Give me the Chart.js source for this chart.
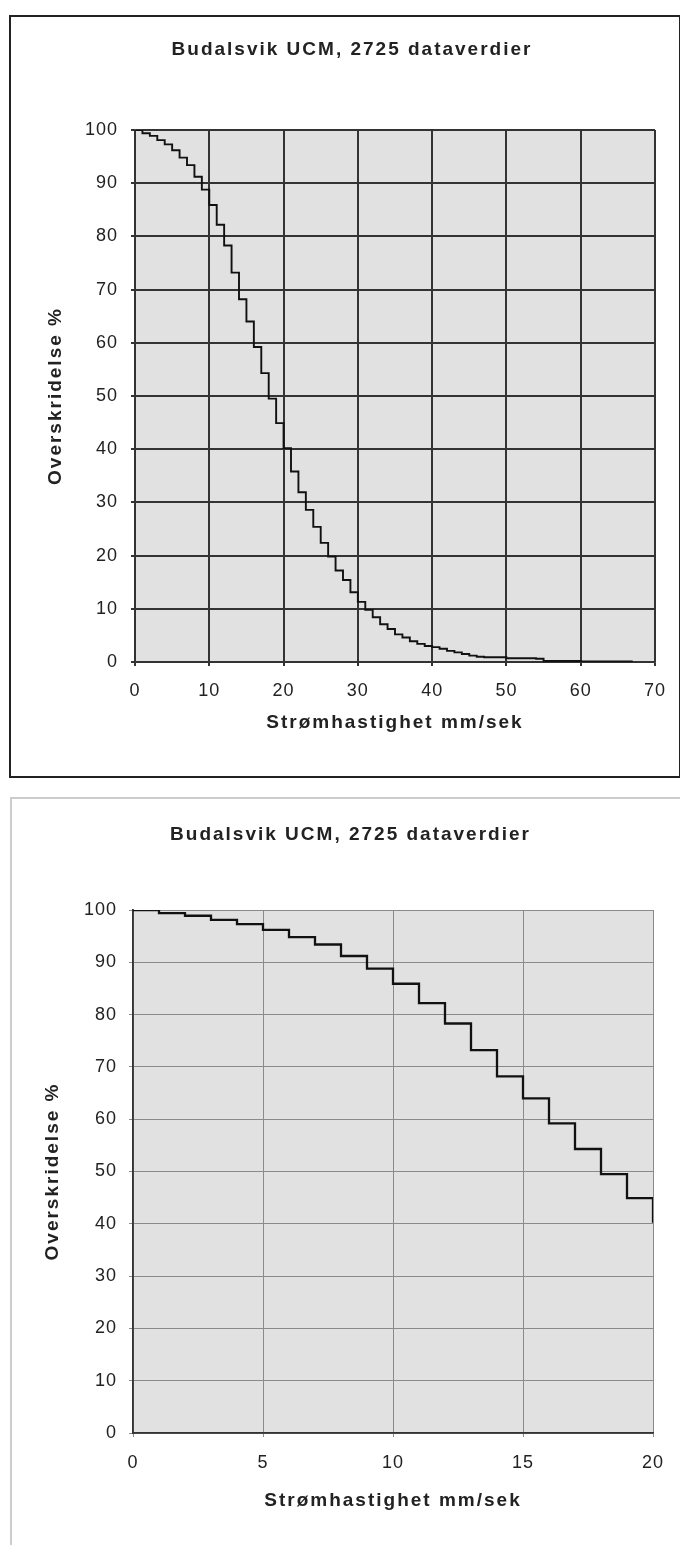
<!DOCTYPE html>
<html>
<head>
<meta charset="utf-8">
<script src="https://cdn.jsdelivr.net/npm/chart.js@4.4.1/dist/chart.umd.min.js"></script>
<style>
  body { margin: 0; background: #fff; width: 680px; height: 1545px; position: relative; overflow: hidden; }
  .frame1 { position: absolute; left: 9px; top: 15px; width: 668px; height: 759px; border: 2px solid #222; }
  .frame2 { position: absolute; left: 10px; top: 797px; width: 680px; height: 760px; border-top: 2px solid #ccc; border-left: 2px solid #ccc; }
  canvas { position: absolute; left: 0; }
</style>
</head>
<body>
<div class="frame1"></div>
<div class="frame2"></div>
<canvas id="full" width="680" height="790" style="top:0"></canvas>
<canvas id="zoom" width="680" height="755" style="top:790px"></canvas>
<script>
// stromhastighet (mm/sek) where each step starts
const hastighet = [
  0, 1, 2, 3, 4, 5, 6, 7, 8, 9,
  10, 11, 12, 13, 14, 15, 16, 17, 18, 19,
  20, 21, 22, 23, 24, 25, 26, 27, 28, 29,
  30, 31, 32, 33, 34, 35, 36, 37, 38, 39,
  40, 41, 42, 43, 44, 45, 46, 47, 48, 49,
  50, 51, 52, 53, 54, 55, 56, 57, 58, 59,
  60, 61, 62, 63, 64, 65, 66, 67
];
// overskridelse % for each step
const overskridelse = [
  100, 99.4, 98.9, 98.1, 97.3, 96.2, 94.8, 93.4, 91.2, 88.8,
  85.9, 82.2, 78.3, 73.2, 68.2, 64.0, 59.2, 54.3, 49.5, 44.9,
  40.2, 35.8, 31.9, 28.6, 25.4, 22.4, 19.8, 17.2, 15.4, 13.1,
  11.3, 9.8, 8.4, 7.1, 6.2, 5.2, 4.6, 3.9, 3.4, 3.0,
  2.8, 2.5, 2.1, 1.8, 1.5, 1.2, 1.0, 0.9, 0.9, 0.9,
  0.7, 0.7, 0.7, 0.7, 0.6, 0.2, 0.2, 0.2, 0.2, 0.2,
  0.1, 0.1, 0.1, 0.1, 0.1, 0.1, 0.1, 0.1
];

const tittel = 'Budalsvik UCM, 2725 dataverdier';
const xTittel = 'Strømhastighet mm/sek';
const yTittel = 'Overskridelse %';

const punkter = hastighet.map((h, i) => ({ x: h, y: overskridelse[i] }));

const plotBg = {
  id: 'plotBg',
  beforeDraw(chart) {
    const a = chart.chartArea;
    const ctx = chart.ctx;
    ctx.save();
    ctx.fillStyle = '#e1e1e1';
    ctx.fillRect(a.left, a.top, a.right - a.left, a.bottom - a.top);
    ctx.restore();
  }
};

// the scanned text is spaced out a bit, bold more than the numbers
function sperre(canvas) {
  const ctx = canvas.getContext('2d');
  const fill = ctx.fillText.bind(ctx);
  const mål = ctx.measureText.bind(ctx);
  const sett = () => { ctx.letterSpacing = ctx.font.indexOf('bold') >= 0 ? '2px' : '1px'; };
  ctx.fillText = (t, x, y, mw) => { sett(); return fill(t, x, y, mw); };
  ctx.measureText = (t) => { sett(); return mål(t); };
}

Chart.defaults.font.family = 'Liberation Sans, Arial, sans-serif';
Chart.defaults.color = '#222';

function lagFigur(id, o) {
  const canvas = document.getElementById(id);
  sperre(canvas);
  return new Chart(canvas, {
    type: 'line',
    data: {
      datasets: [{
        data: punkter,
        stepped: true,
        borderColor: '#111',
        borderWidth: o.linje,
        pointRadius: 0,
        fill: false
      }]
    },
    options: {
      responsive: false,
      animation: false,
      layout: { padding: { left: 48, right: o.hoyre, top: 0, bottom: 0 } },
      plugins: {
        legend: { display: false },
        tooltip: { enabled: false },
        title: {
          display: true,
          text: tittel,
          color: '#222',
          font: { size: 19, weight: 'bold' },
          padding: { top: o.tTop, bottom: o.tBunn }
        }
      },
      scales: {
        x: {
          type: 'linear',
          min: 0,
          max: o.xmax,
          ticks: { stepSize: o.xsteg, padding: o.xpad, font: { size: 18 }, color: '#222', maxRotation: 0 },
          grid: { color: o.grid, lineWidth: o.gridW, tickLength: 4 },
          border: { color: '#333', width: 1.8 },
          title: { display: true, text: xTittel, color: '#222', font: { size: 19, weight: 'bold' }, padding: { top: 0, bottom: o.xtPad } },
          afterFit: s => { s.height = o.xh; }
        },
        y: {
          min: 0,
          max: 100,
          ticks: { stepSize: 10, padding: o.ypad, font: { size: 18 }, color: '#222' },
          grid: { color: o.grid, lineWidth: o.gridW, tickLength: 4 },
          border: { color: '#333', width: 1.8 },
          title: { display: true, text: yTittel, color: '#222', font: { size: 19, weight: 'bold' }, padding: { top: o.ytPad, bottom: 0 } },
          afterFit: s => { s.width = o.yw; }
        }
      }
    },
    plugins: [plotBg]
  });
}

const fullFigur = lagFigur('full', {
  xmax: 70, xsteg: 10, hoyre: 24, yw: 87, xh: 128,
  tTop: 38, tBunn: 69.2, xpad: 14, xtPad: 56, ytPad: -3.4, ypad: 13,
  grid: '#333', gridW: 2, linje: 1.9
});

const zoomFigur = lagFigur('zoom', {
  xmax: 20, xsteg: 5, hoyre: 27, yw: 85, xh: 112,
  tTop: 33, tBunn: 64.2, xpad: 15, xtPad: 33, ytPad: -6.4, ypad: 12,
  grid: '#8a8a8a', gridW: 1, linje: 2.3
});
</script>
</body>
</html>
